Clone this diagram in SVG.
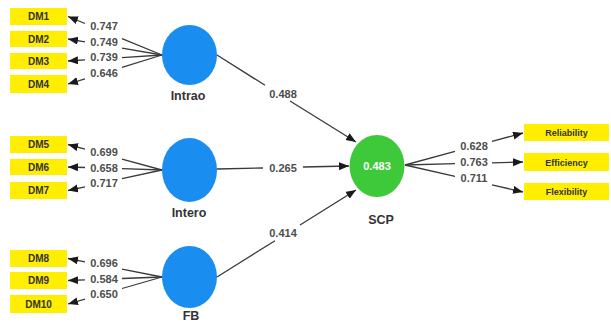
<svg xmlns="http://www.w3.org/2000/svg" width="611" height="322" viewBox="0 0 611 322">
  <style>
    .ind { fill: #ffee00; }
    .ind-t { font-family: "Liberation Sans", Arial, sans-serif; font-weight: bold; font-size: 10px; fill: #333; text-anchor: middle; }
    .ind-r { font-size: 9px; }
    .lv { fill: #1a8ef0; }
    .dv { fill: #3ec93a; }
    .lv-t { font-family: "Liberation Sans", Arial, sans-serif; font-weight: bold; font-size: 12.5px; fill: #333; text-anchor: middle; }
    .w { font-family: "Liberation Sans", Arial, sans-serif; font-weight: bold; font-size: 11px; fill: #4d4d4d; text-anchor: middle; }
    .r2 { font-family: "Liberation Sans", Arial, sans-serif; font-weight: bold; font-size: 11px; fill: #fff; text-anchor: middle; }
    .ln { fill: none; stroke: #3a3a3a; stroke-width: 1.3; marker-end: url(#ah); }
  </style>
  <defs>
    <marker id="ah" markerUnits="userSpaceOnUse" markerWidth="11" markerHeight="9" refX="10" refY="4" orient="auto">
      <path d="M0,0 L10,4 L0,8 z" fill="#1a1a1a"/>
    </marker>
  </defs>

  <rect width="611" height="322" fill="#fff"/>

  <!-- connectors: each path is node-side segment + arrow segment, gap holds the weight -->
  <g id="connectors">
    <path class="ln" d="M162,55 L122,38.6 M85,23.5 L68,16.5"/>
    <path class="ln" d="M162,55 L122,48.2 M85,41.9 L68,39"/>
    <path class="ln" d="M162,55 L122,57.6 M85,59.9 L68,61"/>
    <path class="ln" d="M162,55 L122,67.3 M85,78.8 L68,84"/>

    <path class="ln" d="M162,170 L122,159.1 M85,149.1 L68,144.5"/>
    <path class="ln" d="M162,170 L122,168.7 M85,167.5 L68,167"/>
    <path class="ln" d="M162,170 L122,178.7 M85,186.8 L68,190.5"/>

    <path class="ln" d="M162,277 L122,269.1 M85,261.8 L68,258.5"/>
    <path class="ln" d="M162,277 L122,278.5 M85,279.9 L68,280.5"/>
    <path class="ln" d="M162,277 L122,288.5 M85,299.1 L68,304"/>

    <path class="ln" d="M217,55 L265,85.3 M290,101 L356,142"/>
    <path class="ln" d="M217,169 L263,168 M303,167 L349,166"/>
    <path class="ln" d="M217,277 L275,240.7 M300,225 L356,190"/>

    <path class="ln" d="M405,165 L455,151.4 M492,141.4 L523,133"/>
    <path class="ln" d="M405,165 L455,163.7 M492,162.8 L523,162"/>
    <path class="ln" d="M405,165 L455,176.4 M492,184.9 L523,192"/>
  </g>

  <!-- path weights -->
  <g id="weights">
    <text class="w" x="104" y="30">0.747</text>
    <text class="w" x="104" y="46">0.749</text>
    <text class="w" x="104" y="61">0.739</text>
    <text class="w" x="104" y="77">0.646</text>
    <text class="w" x="104" y="156">0.699</text>
    <text class="w" x="104" y="172">0.658</text>
    <text class="w" x="104" y="187">0.717</text>
    <text class="w" x="104" y="267">0.696</text>
    <text class="w" x="104" y="283">0.584</text>
    <text class="w" x="104" y="298">0.650</text>
    <text class="w" x="283" y="98">0.488</text>
    <text class="w" x="283" y="172">0.265</text>
    <text class="w" x="283" y="237">0.414</text>
    <text class="w" x="474" y="150">0.628</text>
    <text class="w" x="474" y="166">0.763</text>
    <text class="w" x="474" y="182">0.711</text>
  </g>

  <!-- indicators -->
  <g id="DM1"><rect class="ind" x="10" y="8" width="57" height="17"/><text class="ind-t" x="38.5" y="20">DM1</text></g>
  <g id="DM2"><rect class="ind" x="10" y="31" width="57" height="16"/><text class="ind-t" x="38.5" y="42.5">DM2</text></g>
  <g id="DM3"><rect class="ind" x="10" y="53" width="57" height="16"/><text class="ind-t" x="38.5" y="64.5">DM3</text></g>
  <g id="DM4"><rect class="ind" x="10" y="75" width="57" height="18"/><text class="ind-t" x="38.5" y="87.5">DM4</text></g>

  <g id="DM5"><rect class="ind" x="10" y="136" width="57" height="17"/><text class="ind-t" x="38.5" y="148">DM5</text></g>
  <g id="DM6"><rect class="ind" x="10" y="159" width="57" height="16"/><text class="ind-t" x="38.5" y="170.5">DM6</text></g>
  <g id="DM7"><rect class="ind" x="10" y="182" width="57" height="17"/><text class="ind-t" x="38.5" y="194">DM7</text></g>

  <g id="DM8"><rect class="ind" x="10" y="250" width="57" height="17"/><text class="ind-t" x="38.5" y="262">DM8</text></g>
  <g id="DM9"><rect class="ind" x="10" y="272" width="57" height="17"/><text class="ind-t" x="38.5" y="284">DM9</text></g>
  <g id="DM10"><rect class="ind" x="10" y="295" width="57" height="18"/><text class="ind-t" x="38.5" y="307.5">DM10</text></g>

  <g id="Reliability"><rect class="ind" x="524" y="124" width="85" height="17"/><text class="ind-t ind-r" x="566.5" y="136">Reliability</text></g>
  <g id="Efficiency"><rect class="ind" x="524" y="153" width="85" height="18"/><text class="ind-t ind-r" x="566.5" y="165.5">Efficiency</text></g>
  <g id="Flexibility"><rect class="ind" x="524" y="183" width="85" height="17"/><text class="ind-t ind-r" x="566.5" y="195">Flexibility</text></g>

  <!-- latent variables -->
  <g id="Intrao"><ellipse class="lv" cx="189.5" cy="55" rx="27.5" ry="30"/><text class="lv-t" x="188" y="100">Intrao</text></g>
  <g id="Intero"><ellipse class="lv" cx="189.5" cy="170" rx="27.5" ry="32"/><text class="lv-t" x="189" y="217">Intero</text></g>
  <g id="FB"><ellipse class="lv" cx="189.5" cy="277" rx="27.5" ry="31"/><text class="lv-t" x="191" y="320">FB</text></g>
  <g id="SCP"><ellipse class="dv" cx="377" cy="166" rx="27.5" ry="31"/><text class="r2" x="377" y="170">0.483</text><text class="lv-t" x="381" y="224">SCP</text></g>
</svg>
